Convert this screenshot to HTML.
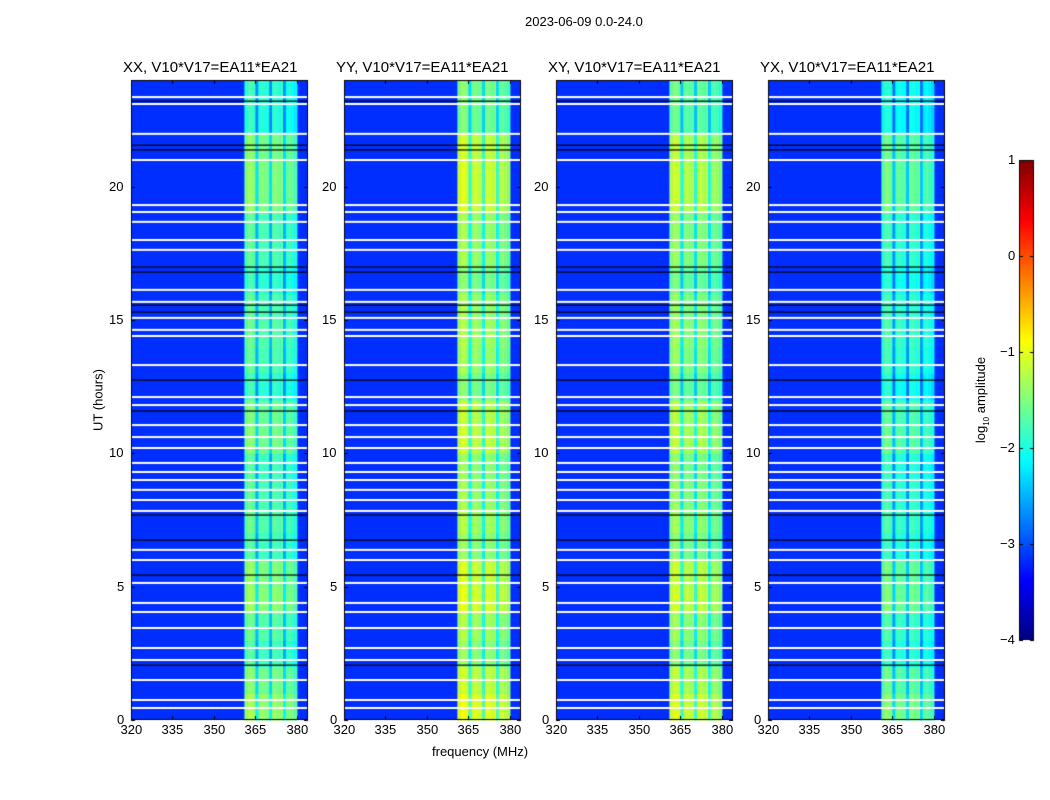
<!DOCTYPE html>
<html><head><meta charset="utf-8">
<style>
body{margin:0;background:#fff;font-family:"Liberation Sans",sans-serif;}
#wrap{position:relative;width:1050px;height:800px;overflow:hidden;}
.t{position:absolute;font-size:13px;color:#000;white-space:nowrap;}
.tt{position:absolute;font-size:15px;white-space:nowrap;}
canvas{position:absolute;left:0;top:0;}
</style></head><body>
<div id="wrap">
<canvas id="cv" width="1050" height="800"></canvas>
<div class="t" style="left:525px;top:14px">2023-06-09 0.0-24.0</div>
<div class="t" style="left:432px;top:744px">frequency (MHz)</div>
<div class="t" style="top:400px;transform:translate(-50%,-50%) rotate(-90deg);left:98px">UT (hours)</div>
<div class="t" style="left:982px;top:400px;transform:translate(-50%,-50%) rotate(-90deg)">log<sub style="font-size:8px">10</sub> amplitude</div>
<div id="labels"></div>
</div>
<script>
const panelNames=["XX, V10*V17=EA11*EA21","YY, V10*V17=EA11*EA21","XY, V10*V17=EA11*EA21","YX, V10*V17=EA11*EA21"];
const panelOffset=[0,0.35,0.25,-0.15];
const xTicks=[320,335,350,365,380];
const yTicks=[0,5,10,15,20];
const cbTicks=[-4,-3,-2,-1,0,1];
const background=-3.15;
// band levels for channels 361..379 (MHz)
const bandChannels=[361,362,363,364,365,366,367,368,369,370,371,372,373,374,375,376,377,378,379];
const bandLevels=[-1.9,-1.7,-1.7,-1.8,-2.6,-1.9,-1.8,-1.9,-1.9,-2.6,-1.8,-1.8,-1.9,-1.8,-2.6,-2.0,-1.9,-2.0,-2.1];
const hourGain=[0.45,0.3,0.05,0.15,0.4,0.35,0.05,0.15,0.1,0.05,0.3,0.25,-0.05,0.1,0.15,0.1,-0.05,0.1,0.1,0.35,0.35,0.3,-0.1,-0.05];
const whiteFlags=[23.36,23.1,21.98,21.0,19.31,19.05,18.68,18.0,17.63,16.13,15.68,15.08,14.63,14.4,13.31,12.11,11.81,11.06,10.61,10.2,9.64,9.3,9.0,8.63,8.25,7.84,6.38,6.0,5.14,4.39,4.05,3.45,2.7,2.25,1.5,0.75,0.45];
const blackFlags=[23.21,21.56,21.38,16.99,16.8,15.56,15.3,12.75,11.59,7.69,6.75,5.44,2.06];

const lefts=[131,344,556,768],W=177,TOP=80,H=640;
const fx=(p,f)=>lefts[p]+(f-320)*W/64;
const fy=h=>TOP+H-h*H/24;
function jet(v){let t=Math.max(0,Math.min(1,(v+4)/5));
 const c=x=>Math.max(0,Math.min(1,1.5-Math.abs(4*t-x)));
 return `rgb(${Math.round(c(3)*255)},${Math.round(c(2)*255)},${Math.round(c(1)*255)})`;}
const cv=document.getElementById('cv'),g=cv.getContext('2d');
const lab=document.getElementById('labels');
function txt(s,x,y,name,cls){const d=document.createElement('div');d.className=cls||'t';d.textContent=s;d.style.left=x+'px';d.style.top=y+'px';
 
 
 lab.appendChild(d);return d;}
for(let p=0;p<4;p++){
 g.fillStyle=jet(background);g.fillRect(lefts[p],TOP,W,H);
 for(let r=0;r<24;r++){
  for(let i=0;i<bandChannels.length;i++){
   const v=bandLevels[i]+panelOffset[p]+hourGain[r];
   g.fillStyle=jet(v);
   g.fillRect(fx(p,bandChannels[i]),fy(r+1),W/64+0.5,H/24+0.5);
  }
 }
 g.fillStyle='#fff';
 whiteFlags.forEach(h=>g.fillRect(lefts[p],fy(h)-1,W,2));
 g.fillStyle='#000';
 blackFlags.forEach(h=>g.fillRect(lefts[p],fy(h)-0.5,W,1.2));
 g.strokeStyle='#000';g.lineWidth=1;g.strokeRect(lefts[p]+0.5,TOP+0.5,W-1,H-1);
 g.beginPath();
 xTicks.forEach(f=>{const x=Math.round(fx(p,f))+0.5;g.moveTo(x,TOP+H);g.lineTo(x,TOP+H-4);g.moveTo(x,TOP);g.lineTo(x,TOP+4);
  txt(String(f),x-11,722,'x-tick-label');});
 yTicks.forEach(h=>{const y=Math.round(fy(h))+0.5;g.moveTo(lefts[p],y);g.lineTo(lefts[p]+4,y);g.moveTo(lefts[p]+W,y);g.lineTo(lefts[p]+W-4,y);
  txt(String(h),lefts[p]-6-(h>=10?16:8),y-9,'y-tick-label');});
 g.stroke();
 txt(panelNames[p],lefts[p]-8,59,'panel-title-'+p,'tt');
}
// colorbar
const CL=1019,CW=15,CT=160,CH=480;
for(let y=0;y<CH;y++){g.fillStyle=jet(1-5*y/CH);g.fillRect(CL,CT+y,CW,1);}
g.strokeStyle='#000';g.strokeRect(CL+0.5,CT+0.5,CW-1,CH-1);
g.beginPath();
cbTicks.forEach(v=>{const y=Math.round(CT+(1-v)/5*CH)+0.5;g.moveTo(CL,y);g.lineTo(CL+4,y);g.moveTo(CL+CW,y);g.lineTo(CL+CW-4,y);
 txt((v<0?'\u2212':'')+Math.abs(v),CL-(v<0?19:11),y-9,'colorbar-tick-label');});
g.stroke();
</script>
</body></html>
